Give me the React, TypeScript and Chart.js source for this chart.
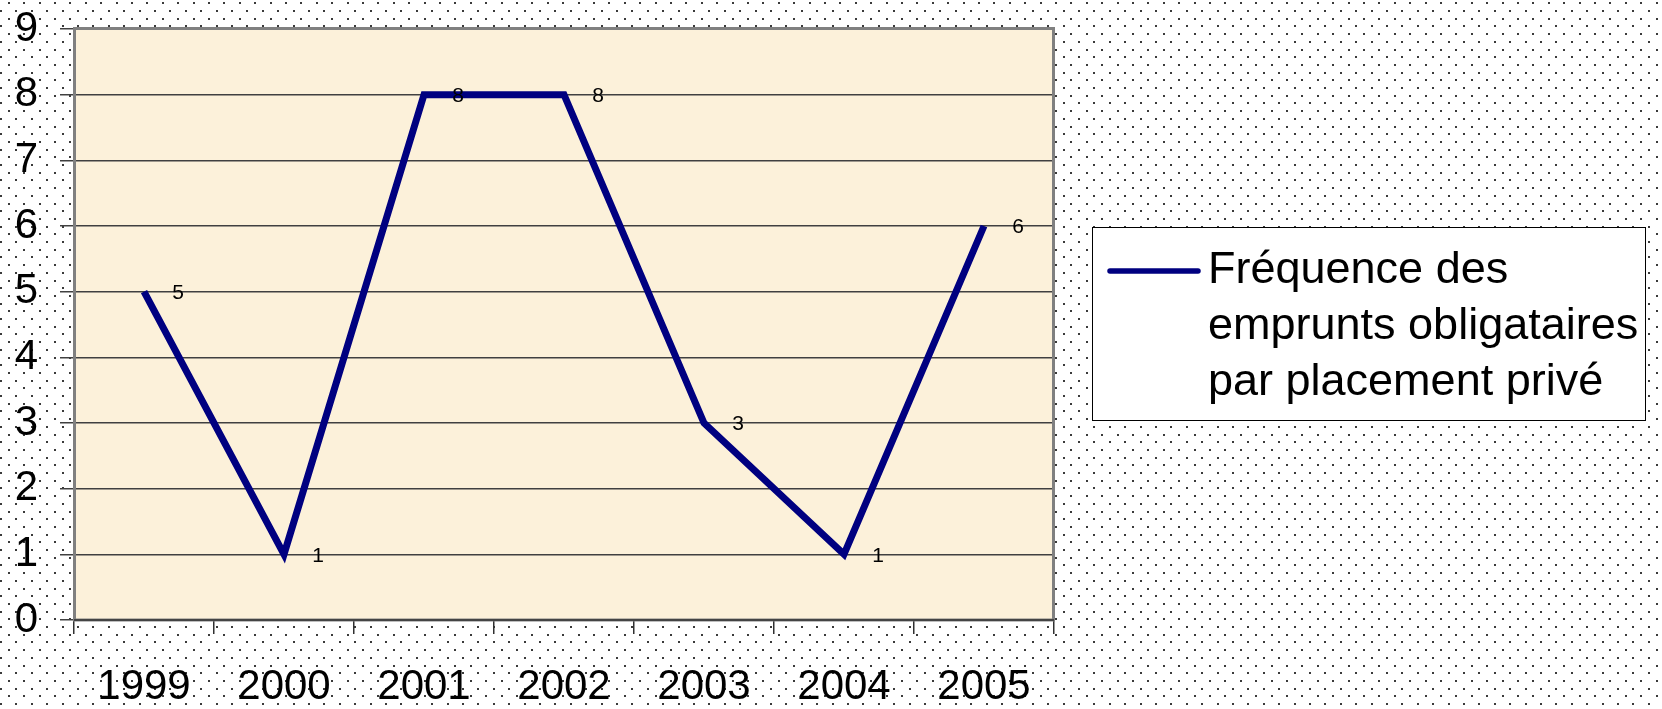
import React, { useEffect, useRef } from "react";
import { Chart, registerables } from "chart.js";

Chart.register(...registerables);

const years = ["1999", "2000", "2001", "2002", "2003", "2004", "2005"];
const frequencies = [5, 1, 8, 8, 3, 1, 6];
const seriesLabel = "Fréquence des emprunts obligataires par placement privé";
const legendLines = ["Fréquence des", "emprunts obligataires", "par placement privé"];

const FONT = "'Liberation Sans', Arial, sans-serif";
const LINE_COLOR = "#000080";
const PLOT_FILL = "#FCF1DA";

// Dotted page background, cream plot area with a grey frame
const backdropPlugin = {
  id: "backdrop",
  beforeDraw(chart: any) {
    const { ctx, width, height, chartArea } = chart;
    ctx.save();
    ctx.fillStyle = "#ffffff";
    ctx.fillRect(0, 0, width, height);
    const step = 15.4;
    ctx.fillStyle = "#3a3a3a";
    for (let j = -1; j * step < height + step; j++) {
      for (let i = -1; i * step < width + step; i++) {
        const x = 8.7 + i * step;
        const y = 3.3 + j * step;
        ctx.fillRect(Math.round(x) - 1, Math.round(y) - 1, 2, 2);
        ctx.fillRect(Math.round(x + step / 2) - 1, Math.round(y + step / 2) - 1, 2, 2);
      }
    }
    const { left, top, right, bottom } = chartArea;
    ctx.fillStyle = PLOT_FILL;
    ctx.fillRect(left, top, right - left, bottom - top);
    ctx.restore();
  },
  beforeDatasetsDraw(chart: any) {
    const { ctx, chartArea } = chart;
    const { left, top, right, bottom } = chartArea;
    ctx.save();
    ctx.strokeStyle = "#808080";
    ctx.lineWidth = 3;
    ctx.strokeRect(left + 0.5, top - 0.5, right - left - 1, bottom - top + 0.5);
    ctx.strokeStyle = "#303030";
    ctx.lineWidth = 1.5;
    ctx.beginPath();
    ctx.moveTo(left, bottom);
    ctx.lineTo(right, bottom);
    ctx.stroke();
    ctx.restore();
  },
};

// Value labels to the right of each point
const valueLabelPlugin = {
  id: "valueLabels",
  afterDatasetsDraw(chart: any) {
    const { ctx } = chart;
    const meta = chart.getDatasetMeta(0);
    ctx.save();
    ctx.font = `21px ${FONT}`;
    ctx.fillStyle = "#000000";
    ctx.textAlign = "center";
    ctx.textBaseline = "middle";
    meta.data.forEach((pt: any, i: number) => {
      ctx.fillText(String(frequencies[i]), pt.x + 34, pt.y + 1.5);
    });
    ctx.restore();
  },
};

// Boxed legend with wrapped series name
const boxedLegendPlugin = {
  id: "boxedLegend",
  afterDraw(chart: any) {
    const { ctx } = chart;
    const bx = 1092, by = 227, bw = 553, bh = 193;
    ctx.save();
    ctx.fillStyle = "#ffffff";
    ctx.fillRect(bx, by, bw, bh);
    ctx.strokeStyle = "#000000";
    ctx.lineWidth = 1;
    ctx.strokeRect(bx + 0.5, by + 0.5, bw, bh);
    ctx.strokeStyle = LINE_COLOR;
    ctx.lineWidth = 5.5;
    ctx.lineCap = "round";
    ctx.beginPath();
    ctx.moveTo(1110, 271);
    ctx.lineTo(1198, 271);
    ctx.stroke();
    ctx.fillStyle = "#000000";
    ctx.font = `45px ${FONT}`;
    ctx.textAlign = "left";
    ctx.textBaseline = "alphabetic";
    legendLines.forEach((line, i) => {
      ctx.fillText(line, 1208, 283 + i * 56);
    });
    ctx.restore();
  },
};

export default function App() {
  const canvasRef = useRef<HTMLCanvasElement | null>(null);

  useEffect(() => {
    document.body.style.margin = "0";
    const canvas = canvasRef.current;
    if (!canvas) return;
    const chart = new Chart(canvas, {
      type: "line",
      data: {
        labels: years,
        datasets: [
          {
            label: seriesLabel,
            data: frequencies,
            borderColor: LINE_COLOR,
            backgroundColor: LINE_COLOR,
            borderWidth: 7,
            borderJoinStyle: "miter",
            pointRadius: 0,
            tension: 0,
            fill: false,
          },
        ],
      },
      options: {
        responsive: false,
        animation: false,
        devicePixelRatio: 1,
        layout: { padding: { top: 29, right: 608, left: 0, bottom: 0 } },
        plugins: {
          legend: { display: false },
          tooltip: { enabled: false },
        },
        scales: {
          x: {
            offset: true,
            grid: {
              offset: true,
              drawOnChartArea: false,
              drawTicks: true,
              tickLength: 14,
              color: "#303030",
              lineWidth: 1.5,
            },
            border: { display: false },
            ticks: {
              color: "#000000",
              font: { family: FONT, size: 42 },
              padding: 28,
              maxRotation: 0,
              autoSkip: false,
            },
            afterFit(scale: any) {
              scale.height = 89;
              scale.paddingLeft = 0;
              scale.paddingRight = 0;
            },
          },
          y: {
            min: 0,
            max: 9,
            grid: {
              color: "#404040",
              lineWidth: 1.5,
              tickLength: 14,
            },
            border: { display: false },
            ticks: {
              stepSize: 1,
              color: "#000000",
              font: { family: FONT, size: 42 },
              padding: 22,
            },
            afterFit(scale: any) {
              scale.width = 74;
              scale.paddingTop = 0;
              scale.paddingBottom = 0;
            },
          },
        },
      },
      plugins: [backdropPlugin, valueLabelPlugin, boxedLegendPlugin],
    } as any);
    return () => chart.destroy();
  }, []);

  return <canvas ref={canvasRef} width={1662} height={709} style={{ display: "block" }} />;
}
